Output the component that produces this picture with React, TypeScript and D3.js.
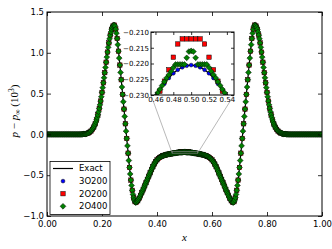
import React, { useEffect, useRef } from "react";
import * as d3 from "d3";

// pressure perturbation, 200-cell runs sampled at x = i/200
const exact = [
  0, 0, 0, 0, 0, 0, 0, 0, 0, 0,
  0, 0, 0, 0, 0, 0, 0, 0, 0, 0,
  0, 0, 0, 0, 0, 0.001, 0.002, 0.004, 0.006, 0.011,
  0.017, 0.027, 0.041, 0.062, 0.09, 0.128, 0.177, 0.24, 0.318, 0.409,
  0.515, 0.632, 0.757, 0.885, 1.009, 1.121, 1.216, 1.288, 1.329, 1.34,
  1.29, 1.175, 1.02, 0.85, 0.67, 0.49, 0.31, 0.13, -0.05, -0.23,
  -0.405, -0.56, -0.685, -0.775, -0.825, -0.832, -0.814, -0.784, -0.749, -0.711,
  -0.672, -0.632, -0.592, -0.552, -0.512, -0.472, -0.433, -0.396, -0.363, -0.334,
  -0.312, -0.295, -0.282, -0.2715, -0.2638, -0.2572, -0.2524, -0.248, -0.2439, -0.2402,
  -0.2368, -0.2337, -0.2309, -0.2285, -0.2264, -0.2246, -0.2231, -0.222, -0.2212, -0.2207,
  -0.2205,
  -0.2207, -0.2212, -0.222, -0.2231, -0.2246, -0.2264, -0.2285, -0.2309, -0.2337, -0.2368,
  -0.2402, -0.2439, -0.248, -0.2524, -0.2572, -0.2638, -0.2715, -0.282, -0.295, -0.312,
  -0.334, -0.363, -0.396, -0.433, -0.472, -0.512, -0.552, -0.592, -0.632, -0.672,
  -0.711, -0.749, -0.784, -0.814, -0.832, -0.825, -0.775, -0.685, -0.56, -0.405,
  -0.23, -0.05, 0.13, 0.31, 0.49, 0.67, 0.85, 1.02, 1.175, 1.29,
  1.34, 1.329, 1.288, 1.216, 1.121, 1.009, 0.885, 0.757, 0.632, 0.515,
  0.409, 0.318, 0.24, 0.177, 0.128, 0.09, 0.062, 0.041, 0.027, 0.017,
  0.011, 0.006, 0.004, 0.002, 0.001, 0, 0, 0, 0, 0,
  0, 0, 0, 0, 0, 0, 0, 0, 0, 0,
  0, 0, 0, 0, 0, 0, 0, 0, 0, 0,
];

// third order, 200 cells: sits on the exact curve at this scale
const p3O200 = exact;

// second order, 200 cells
const p2O200 = [
  0, 0, 0, 0, 0, 0, 0, 0, 0, 0,
  0, 0, 0, 0, 0, 0, 0, 0, 0, 0,
  0, 0, 0, 0, 0, 0.001, 0.002, 0.004, 0.006, 0.011,
  0.017, 0.027, 0.041, 0.062, 0.09, 0.128, 0.177, 0.24, 0.318, 0.409,
  0.515, 0.632, 0.757, 0.885, 1.009, 1.121, 1.216, 1.288, 1.329, 1.34,
  1.29, 1.175, 1.02, 0.85, 0.67, 0.49, 0.31, 0.13, -0.05, -0.23,
  -0.405, -0.56, -0.685, -0.775, -0.825, -0.832, -0.814, -0.784, -0.749, -0.711,
  -0.672, -0.632, -0.592, -0.552, -0.512, -0.472, -0.433, -0.396, -0.363, -0.334,
  -0.312, -0.295, -0.282, -0.2715, -0.2638, -0.2572, -0.2524, -0.248, -0.2439, -0.2402,
  -0.239, -0.236, -0.232, -0.2288, -0.2256, -0.222, -0.218, -0.2138, -0.2122, -0.2122,
  -0.2122,
  -0.2122, -0.2122, -0.2138, -0.218, -0.222, -0.2256, -0.2288, -0.232, -0.236, -0.239,
  -0.2402, -0.2439, -0.248, -0.2524, -0.2572, -0.2638, -0.2715, -0.282, -0.295, -0.312,
  -0.334, -0.363, -0.396, -0.433, -0.472, -0.512, -0.552, -0.592, -0.632, -0.672,
  -0.711, -0.749, -0.784, -0.814, -0.832, -0.825, -0.775, -0.685, -0.56, -0.405,
  -0.23, -0.05, 0.13, 0.31, 0.49, 0.67, 0.85, 1.02, 1.175, 1.29,
  1.34, 1.329, 1.288, 1.216, 1.121, 1.009, 0.885, 0.757, 0.632, 0.515,
  0.409, 0.318, 0.24, 0.177, 0.128, 0.09, 0.062, 0.041, 0.027, 0.017,
  0.011, 0.006, 0.004, 0.002, 0.001, 0, 0, 0, 0, 0,
  0, 0, 0, 0, 0, 0, 0, 0, 0, 0,
  0, 0, 0, 0, 0, 0, 0, 0, 0, 0,
];

// second order, 400 cells, sampled at x = j/400
const p2O400 = [
  0, 0, 0, 0, 0, 0, 0, 0, 0, 0,
  0, 0, 0, 0, 0, 0, 0, 0, 0, 0,
  0, 0, 0, 0, 0, 0, 0, 0, 0, 0,
  0, 0, 0, 0, 0, 0, 0, 0, 0, 0,
  0, 0, 0, 0, 0, 0, 0, 0, 0, 0,
  0.001, 0.002, 0.002, 0.003, 0.004, 0.005, 0.006, 0.008, 0.011, 0.014,
  0.017, 0.022, 0.027, 0.033, 0.041, 0.05, 0.062, 0.075, 0.09, 0.107,
  0.128, 0.151, 0.177, 0.207, 0.24, 0.277, 0.318, 0.362, 0.409, 0.461,
  0.515, 0.573, 0.632, 0.694, 0.757, 0.821, 0.885, 0.947, 1.009, 1.067,
  1.121, 1.172, 1.216, 1.255, 1.288, 1.312, 1.329, 1.339, 1.34, 1.325,
  1.29, 1.24, 1.175, 1.1, 1.02, 0.935, 0.85, 0.76, 0.67, 0.58,
  0.49, 0.4, 0.31, 0.22, 0.13, 0.04, -0.05, -0.14, -0.23, -0.32,
  -0.405, -0.485, -0.56, -0.625, -0.685, -0.735, -0.775, -0.805, -0.825, -0.835,
  -0.832, -0.825, -0.814, -0.8, -0.784, -0.767, -0.749, -0.73, -0.711, -0.692,
  -0.672, -0.652, -0.632, -0.612, -0.592, -0.572, -0.552, -0.532, -0.512, -0.492,
  -0.472, -0.452, -0.433, -0.414, -0.396, -0.379, -0.363, -0.348, -0.334, -0.323,
  -0.312, -0.303, -0.295, -0.288, -0.282, -0.276, -0.2715, -0.2675, -0.2638, -0.2603,
  -0.2572, -0.2547, -0.2524, -0.2501, -0.248, -0.2459, -0.2439, -0.242, -0.2402, -0.2384,
  -0.2368, -0.2352, -0.233, -0.2318, -0.2305, -0.2293, -0.2282, -0.227, -0.2258, -0.2246,
  -0.2236, -0.2225, -0.2213, -0.2203, -0.2203, -0.2203, -0.2203, -0.2203, -0.2182, -0.2162,
  -0.216,
  -0.2162, -0.2182, -0.2203, -0.2203, -0.2203, -0.2203, -0.2203, -0.2213, -0.2225, -0.2236,
  -0.2246, -0.2258, -0.227, -0.2282, -0.2293, -0.2305, -0.2318, -0.233, -0.2352, -0.2368,
  -0.2384, -0.2402, -0.242, -0.2439, -0.2459, -0.248, -0.2501, -0.2524, -0.2547, -0.2572,
  -0.2603, -0.2638, -0.2675, -0.2715, -0.276, -0.282, -0.288, -0.295, -0.303, -0.312,
  -0.323, -0.334, -0.348, -0.363, -0.379, -0.396, -0.414, -0.433, -0.452, -0.472,
  -0.492, -0.512, -0.532, -0.552, -0.572, -0.592, -0.612, -0.632, -0.652, -0.672,
  -0.692, -0.711, -0.73, -0.749, -0.767, -0.784, -0.8, -0.814, -0.825, -0.832,
  -0.835, -0.825, -0.805, -0.775, -0.735, -0.685, -0.625, -0.56, -0.485, -0.405,
  -0.32, -0.23, -0.14, -0.05, 0.04, 0.13, 0.22, 0.31, 0.4, 0.49,
  0.58, 0.67, 0.76, 0.85, 0.935, 1.02, 1.1, 1.175, 1.24, 1.29,
  1.325, 1.34, 1.339, 1.329, 1.312, 1.288, 1.255, 1.216, 1.172, 1.121,
  1.067, 1.009, 0.947, 0.885, 0.821, 0.757, 0.694, 0.632, 0.573, 0.515,
  0.461, 0.409, 0.362, 0.318, 0.277, 0.24, 0.207, 0.177, 0.151, 0.128,
  0.107, 0.09, 0.075, 0.062, 0.05, 0.041, 0.033, 0.027, 0.022, 0.017,
  0.014, 0.011, 0.008, 0.006, 0.005, 0.004, 0.003, 0.002, 0.002, 0.001,
  0, 0, 0, 0, 0, 0, 0, 0, 0, 0,
  0, 0, 0, 0, 0, 0, 0, 0, 0, 0,
  0, 0, 0, 0, 0, 0, 0, 0, 0, 0,
  0, 0, 0, 0, 0, 0, 0, 0, 0, 0,
  0, 0, 0, 0, 0, 0, 0, 0, 0, 0,
];

const xTicks = [0, 0.2, 0.4, 0.6, 0.8, 1.0];
const yTicks = [-1.0, -0.5, 0.0, 0.5, 1.0, 1.5];
const insetXTicks = [0.46, 0.48, 0.5, 0.52, 0.54];
const insetYTicks = [-0.23, -0.225, -0.22, -0.215, -0.21];
const seriesNames = ["Exact", "3O200", "2O200", "2O400"];

const x200 = d3.range(exact.length).map((i) => i / (exact.length - 1));
const x400 = d3.range(p2O400.length).map((i) => i / (p2O400.length - 1));

const BLUE = "#0000ff";
const RED = "#ff0000";
const GREEN = "#008000";
const SANS = "DejaVu Sans";
const SERIF = "Liberation Serif";
const R_CIRCLE = 1.9;

const diamond = (r: number) => `M0,${-r}L${r},0L0,${r}L${-r},0Z`;

function App() {
  const ref = useRef<SVGSVGElement>(null);

  useEffect(() => {
    const svg = d3.select(ref.current);
    svg.selectAll("*").remove();

    const x = d3.scaleLinear().domain([0, 1]).range([47, 322]);
    const y = d3.scaleLinear().domain([-1, 1.5]).range([216, 12]);
    const xi = d3.scaleLinear().domain([0.455, 0.548]).range([151, 234]);
    const yi = d3.scaleLinear().domain([-0.23, -0.21]).range([95, 32]);

    const defs = svg.append("defs");
    const clip = (id: string, sx: any, sy: any) =>
      defs
        .append("clipPath")
        .attr("id", id)
        .append("rect")
        .attr("x", sx.range()[0])
        .attr("y", sy.range()[1])
        .attr("width", sx.range()[1] - sx.range()[0])
        .attr("height", sy.range()[0] - sy.range()[1]);
    clip("clip-main", x, y);
    clip("clip-inset", xi, yi);

    const drawSeries = (g: any, sx: any, sy: any) => {
      g.append("path")
        .datum(exact)
        .attr("fill", "none")
        .attr("stroke", "#000")
        .attr("stroke-width", 1.2)
        .attr(
          "d",
          d3
            .line<number>()
            .x((_, i) => sx(x200[i]))
            .y((d) => sy(d))
        );
      g.append("g")
        .selectAll("circle")
        .data(p3O200)
        .join("circle")
        .attr("cx", (_: number, i: number) => sx(x200[i]))
        .attr("cy", (d: number) => sy(d))
        .attr("r", R_CIRCLE)
        .attr("fill", BLUE)
        .attr("stroke", "#000")
        .attr("stroke-width", 0.5);
      g.append("g")
        .selectAll("rect")
        .data(p2O200)
        .join("rect")
        .attr("x", (_: number, i: number) => sx(x200[i]) - 2.2)
        .attr("y", (d: number) => sy(d) - 2.2)
        .attr("width", 4.4)
        .attr("height", 4.4)
        .attr("fill", RED)
        .attr("stroke", "#000")
        .attr("stroke-width", 0.5);
      g.append("g")
        .selectAll("path")
        .data(p2O400)
        .join("path")
        .attr(
          "transform",
          (d: number, i: number) => `translate(${sx(x400[i])},${sy(d)})`
        )
        .attr("d", diamond(2.9))
        .attr("fill", GREEN)
        .attr("stroke", "#000")
        .attr("stroke-width", 0.5);
    };

    const drawAxes = (
      sx: any,
      sy: any,
      xt: number[],
      yt: number[],
      fx: string,
      fy: string,
      tick: number,
      fontSize: number,
      padX: number,
      padY: number
    ) => {
      const [x0, x1] = sx.range();
      const [y0, y1] = sy.range();
      const none = () => "";
      const parts = [
        [d3.axisBottom(sx).tickValues(xt).tickFormat(d3.format(fx) as any).tickPadding(padX), `translate(0,${y0})`],
        [d3.axisTop(sx).tickValues(xt).tickFormat(none as any), `translate(0,${y1})`],
        [d3.axisLeft(sy).tickValues(yt).tickFormat(d3.format(fy) as any).tickPadding(padY), `translate(${x0},0)`],
        [d3.axisRight(sy).tickValues(yt).tickFormat(none as any), `translate(${x1},0)`],
      ];
      parts.forEach(([ax, tr]: any) => {
        const g = svg
          .append("g")
          .attr("transform", tr)
          .call(ax.tickSizeInner(-tick).tickSizeOuter(0));
        g.select(".domain").remove();
        g.attr("font-family", SANS).attr("font-size", fontSize);
        g.selectAll("line").attr("stroke", "#000").attr("stroke-width", 0.8);
        g.selectAll("text").attr("fill", "#000");
      });
      svg
        .append("rect")
        .attr("x", x0)
        .attr("y", y1)
        .attr("width", x1 - x0)
        .attr("height", y0 - y1)
        .attr("fill", "none")
        .attr("stroke", "#000")
        .attr("stroke-width", 1);
    };

    // main panel
    svg.append("rect").attr("width", 332).attr("height", 249).attr("fill", "#fff");
    drawSeries(svg.append("g").attr("clip-path", "url(#clip-main)"), x, y);
    drawAxes(x, y, xTicks, yTicks, ".2f", ".1f", 4, 8.5, 5, 3);

    // zoom marker and connectors
    const mark = svg.append("g").attr("fill", "none").attr("stroke", "#888").attr("stroke-width", 0.6);
    mark
      .append("rect")
      .attr("x", x(0.455))
      .attr("y", y(-0.21))
      .attr("width", x(0.548) - x(0.455))
      .attr("height", y(-0.23) - y(-0.21));
    mark.append("line").attr("x1", xi(0.455)).attr("y1", yi(-0.23)).attr("x2", x(0.455)).attr("y2", y(-0.23));
    mark.append("line").attr("x1", xi(0.548)).attr("y1", yi(-0.23)).attr("x2", x(0.548)).attr("y2", y(-0.23));

    // inset
    svg
      .append("rect")
      .attr("x", 151)
      .attr("y", 32)
      .attr("width", 83)
      .attr("height", 63)
      .attr("fill", "#fff");
    drawSeries(svg.append("g").attr("clip-path", "url(#clip-inset)"), xi, yi);
    drawAxes(xi, yi, insetXTicks, insetYTicks, ".2f", ".3f", 3, 7, 2, 2);

    // axis titles
    svg
      .append("text")
      .attr("x", x(0.5))
      .attr("y", 241)
      .attr("text-anchor", "middle")
      .attr("font-family", SERIF)
      .attr("font-style", "italic")
      .attr("font-size", 11)
      .text("x");

    const yl = svg
      .append("text")
      .attr("transform", "translate(18,111) rotate(-90)")
      .attr("text-anchor", "middle")
      .attr("font-family", SERIF)
      .attr("font-size", 11);
    yl.append("tspan").attr("font-style", "italic").text("p");
    yl.append("tspan").text(" \u2212 ");
    yl.append("tspan").attr("font-style", "italic").text("p");
    yl.append("tspan").attr("font-size", 7.5).attr("dy", 2).text("\u221e");
    yl.append("tspan").attr("dy", -2).text(" (10");
    yl.append("tspan").attr("font-size", 7.5).attr("dy", -4).text("3");
    yl.append("tspan").attr("dy", 4).text(")");

    // legend
    const lg = svg.append("g").attr("font-family", SANS).attr("font-size", 8.5);
    lg.append("rect")
      .attr("x", 50)
      .attr("y", 161.5)
      .attr("width", 60)
      .attr("height", 53)
      .attr("fill", "#fff")
      .attr("stroke", "#000")
      .attr("stroke-width", 0.8);
    const ly = d3.scalePoint<string>().domain(seriesNames).range([168.5, 206.3]);
    seriesNames.forEach((name, i) => {
      const cy = ly(name) as number;
      if (i === 0) {
        lg.append("line").attr("x1", 53).attr("x2", 73).attr("y1", cy).attr("y2", cy).attr("stroke", "#000").attr("stroke-width", 1.2);
      } else if (i === 1) {
        lg.append("circle").attr("cx", 63).attr("cy", cy).attr("r", R_CIRCLE).attr("fill", BLUE).attr("stroke", "#000").attr("stroke-width", 0.5);
      } else if (i === 2) {
        lg.append("rect").attr("x", 60.8).attr("y", cy - 2.2).attr("width", 4.4).attr("height", 4.4).attr("fill", RED).attr("stroke", "#000").attr("stroke-width", 0.5);
      } else {
        lg.append("path").attr("transform", `translate(63,${cy})`).attr("d", diamond(2.9)).attr("fill", GREEN).attr("stroke", "#000").attr("stroke-width", 0.5);
      }
      lg.append("text").attr("x", 79).attr("y", cy).attr("dy", "0.35em").text(name);
    });
  }, []);

  return (
    <svg
      ref={ref}
      width={332}
      height={249}
      style={{ position: "absolute", left: 0, top: 0 }}
    />
  );
}

export default App;
